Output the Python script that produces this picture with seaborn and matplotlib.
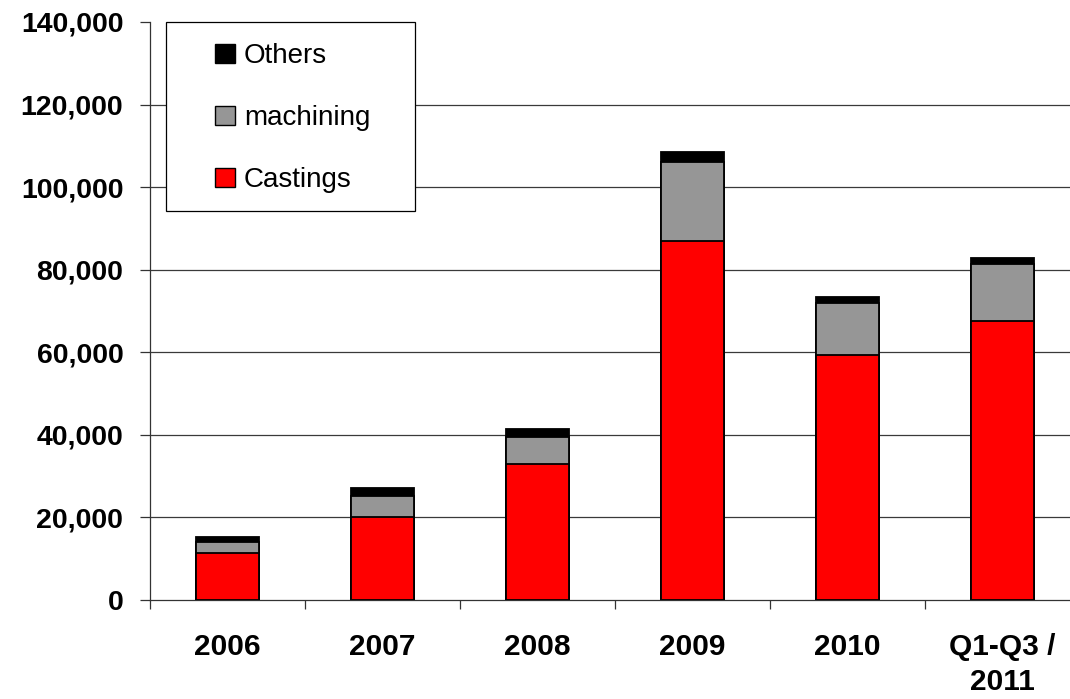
import matplotlib
matplotlib.use("Agg")
import matplotlib.pyplot as plt
import seaborn as sns
import pandas as pd
from matplotlib.patches import Patch, Rectangle
from matplotlib.ticker import FuncFormatter, FixedLocator

# Output by segment (units)
categories = ["2006", "2007", "2008", "2009", "2010", "Q1-Q3 /\n2011"]
castings = [11500, 20200, 33000, 87000, 59300, 67600]
machining = [2500, 5000, 6500, 19200, 12700, 13900]
others = [1200, 1900, 1900, 2400, 1500, 1300]

y_ticks = [0, 20000, 40000, 60000, 80000, 100000, 120000, 140000]

sns.set_theme(style="white")
plt.rcParams["font.family"] = ["Liberation Sans", "DejaVu Sans"]
plt.rcParams["text.color"] = "black"
plt.rcParams["xtick.color"] = "black"
plt.rcParams["ytick.color"] = "black"

df = pd.DataFrame({
    "category": categories,
    "castings": castings,
    "machining": machining,
    "others": others,
})
df["lvl2"] = df["castings"] + df["machining"]
df["lvl3"] = df["lvl2"] + df["others"]

fig = plt.figure(figsize=(10.70, 6.99), dpi=100)
W, H = 1070, 699
ax = fig.add_axes([150 / W, (H - 600) / H, 930 / W, 578 / H])

bar_kw = dict(width=0.41, edgecolor="black", linewidth=1.3,
              saturation=1, ax=ax, order=categories, zorder=3)
# stacked look: draw cumulative totals from the top layer down
sns.barplot(data=df, x="category", y="lvl3", color="black", **bar_kw)
sns.barplot(data=df, x="category", y="lvl2", color="#969696", **bar_kw)
sns.barplot(data=df, x="category", y="castings", color="#ff0000", **bar_kw)

ax.set_xlim(-0.5, len(categories) - 0.5)
ax.set_ylim(0, 140000)
ax.set_xlabel("")
ax.set_ylabel("")

# y axis
ax.yaxis.set_major_locator(FixedLocator(y_ticks))
ax.yaxis.set_major_formatter(FuncFormatter(lambda v, p: f"{int(v):,}"))
ax.tick_params(axis="y", which="major", direction="out", length=7.2,
               width=0.9, color="#333333", labelcolor="black", pad=12,
               labelsize=20.5, left=True)
for lbl in ax.get_yticklabels():
    lbl.set_fontweight("bold")

# horizontal grid lines (none at the top)
for v in y_ticks[1:-1]:
    ax.axhline(v, color="#3a3a3a", linewidth=0.9, zorder=1)

# x axis: labels centred under bars, tick marks between categories
ax.set_xticks(range(len(categories)))
ax.set_xticklabels(categories, fontweight="bold", fontsize=21.5,
                   linespacing=1.3, color="black")
ax.tick_params(axis="x", which="major", length=0, pad=24, bottom=False)
ax.set_xticks([i - 0.5 for i in range(len(categories) + 1)], minor=True)
ax.tick_params(axis="x", which="minor", direction="out", length=6.5,
               width=0.9, color="#333333", bottom=True)

for s in ["top", "right"]:
    ax.spines[s].set_visible(False)
for s in ["left", "bottom"]:
    ax.spines[s].set_color("#333333")
    ax.spines[s].set_linewidth(0.9)

# legend
handles = [
    Patch(facecolor="black", edgecolor="black", linewidth=1.0, label="Others"),
    Patch(facecolor="#969696", edgecolor="black", linewidth=1.0, label="machining"),
    Patch(facecolor="#ff0000", edgecolor="black", linewidth=1.0, label="Castings"),
]
leg = fig.legend(handles=handles, loc="upper left",
                 bbox_to_anchor=(215 / W, 1 - 43 / H),
                 bbox_transform=fig.transFigure, frameon=False,
                 fontsize=20, handlelength=0.72, handleheight=0.68,
                 handletextpad=0.32, labelspacing=1.3, borderpad=0,
                 borderaxespad=0)
for t in leg.get_texts():
    t.set_color("black")
fig.patches.append(Rectangle((166 / W, 1 - 211 / H), 249 / W, 189 / H,
                             transform=fig.transFigure, facecolor="white",
                             edgecolor="black", linewidth=0.9, zorder=5))
leg.set_zorder(6)

fig.savefig("out.png", dpi=100)
